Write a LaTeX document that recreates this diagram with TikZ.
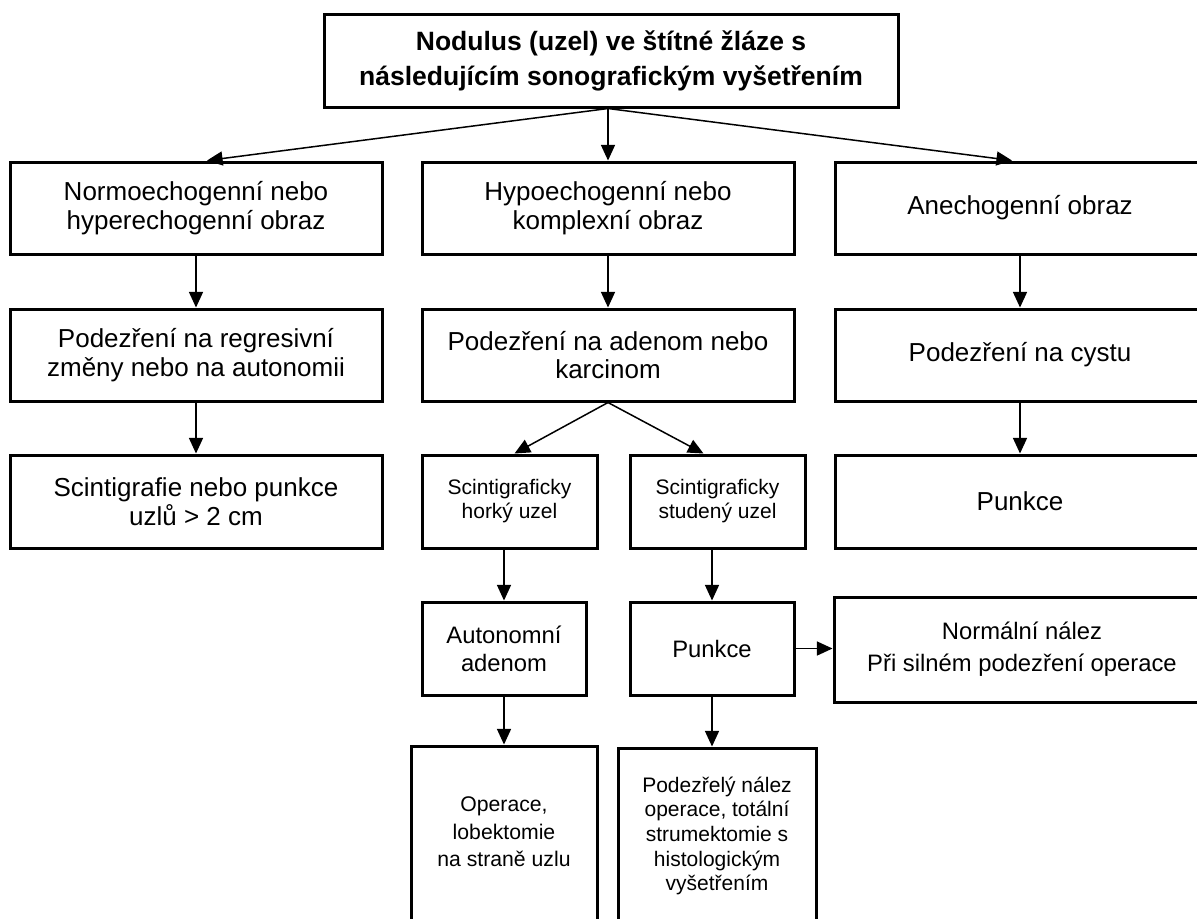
\documentclass[tikz,border=0pt]{standalone}
\usepackage{fontspec}
\setmainfont{Liberation Sans}
\usetikzlibrary{arrows.meta,calc}
\begin{document}
\begin{tikzpicture}[x=0.5pt,y=-0.5pt,
  box/.style={draw, line width=1.5pt, inner sep=0pt, align=center,
    font=\fontsize{13}{14.2}\selectfont},
  wh/.style 2 args={minimum width=#1*0.5pt, minimum height=#2*0.5pt},
  small/.style={font=\fontsize{10.5}{12}\selectfont},
  mid/.style={font=\fontsize{11.9}{14}\selectfont},
  arr/.style={-{Triangle[length=7.8pt,width=7pt]}, line width=0.75pt},
  txt/.style={align=center, inner sep=0pt}
]
\clip (0,0) rectangle (1197,918);
\fill[white] (0,0) rectangle (1197,918);

% top
\node[box, wh={574}{93}, font=\bfseries\fontsize{13.25}{17.5}\selectfont] (T) at (611,60.5)
  {Nodulus (uzel) ve štítné žláze s\\následujícím sonografickým vyšetřením};

% row 1
\node[box, wh={372}{92}] (A) at (196,208) {Normoechogenní nebo\\hyperechogenní obraz};
\node[box, wh={372}{92}] (B) at (608,208) {Hypoechogenní nebo\\komplexní obraz};
\node[box, wh={370}{92}] (C) at (1020,208) {Anechogenní obraz};

% row 2
\node[box, wh={372}{92}] (A2) at (196,355) {Podezření na regresivní\\změny nebo na autonomii};
\node[box, wh={372}{92}] (B2) at (608,355) {Podezření na adenom nebo\\karcinom};
\node[box, wh={370}{92}] (C2) at (1020,355) {Podezření na cystu};

% row 3
\node[box, wh={372}{93}] (A3) at (196,501.5) {Scintigrafie nebo punkce\\uzlů > 2 cm};
\node[box, wh={175}{93}, small] (B3a) at (509.5,501.5) {Scintigraficky\\horký uzel};
\node[box, wh={175}{93}, small] (B3b) at (717.5,501.5) {Scintigraficky\\studený uzel};
\node[box, wh={370}{93}] (C3) at (1020,501.5) {Punkce};

% row 4
\node[box, wh={164}{93}, mid] (B4a) at (504,648.5) {Autonomní\\adenom};
\node[box, wh={164}{93}, mid] (B4b) at (712,648.5) {Punkce};
\node[box, wh={376}{105}, font=\fontsize{11.9}{16}\selectfont] (R) at (1022,649.5)
  {Normální nález\\Při silném podezření operace};

% row 5 (boxes run past the bottom edge)
\node[box, wh={186}{254}] (B5a) at (504,873) {};
\node[box, wh={198}{250}] (B5b) at (717,873) {};
\node[txt, font=\fontsize{10.6}{13.8}\selectfont] (B5at) at (504,832)
  {Operace,\\lobektomie\\na straně uzlu};
\node[txt, font=\fontsize{10.5}{12.3}\selectfont] (B5bt) at (717,836)
  {Podezřelý nález\\operace, totální\\strumektomie s\\histologickým\\vyšetřením};

% connectors
\draw[arr] (T.south -| B.north) -- ($(A.north)+(11,0)$);
\draw[arr] (T.south -| B.north) -- (B.north);
\draw[arr] (T.south -| B.north) -- ($(C.north)+(-8,0)$);

\draw[arr] (A) -- (A2);
\draw[arr] (B) -- (B2);
\draw[arr] (C) -- (C2);
\draw[arr] (A2) -- (A3);
\draw[arr] (C2) -- (C3);

\draw[arr] (B2.south) -- ($(B3a.north)+(5,0)$);
\draw[arr] (B2.south) -- ($(B3b.north)+(-14,0)$);

\draw[arr] (B3a.south -| B4a.north) -- (B4a.north);
\draw[arr] (B3b.south -| B4b.north) -- (B4b.north);
\draw[arr] (B4a.south) -- (B4a.south |- B5a.north);
\draw[arr] (B4b.south) -- (B4b.south |- B5b.north);
\draw[arr] (B4b.east) -- (B4b.east -| R.west);
\end{tikzpicture}
\end{document}
